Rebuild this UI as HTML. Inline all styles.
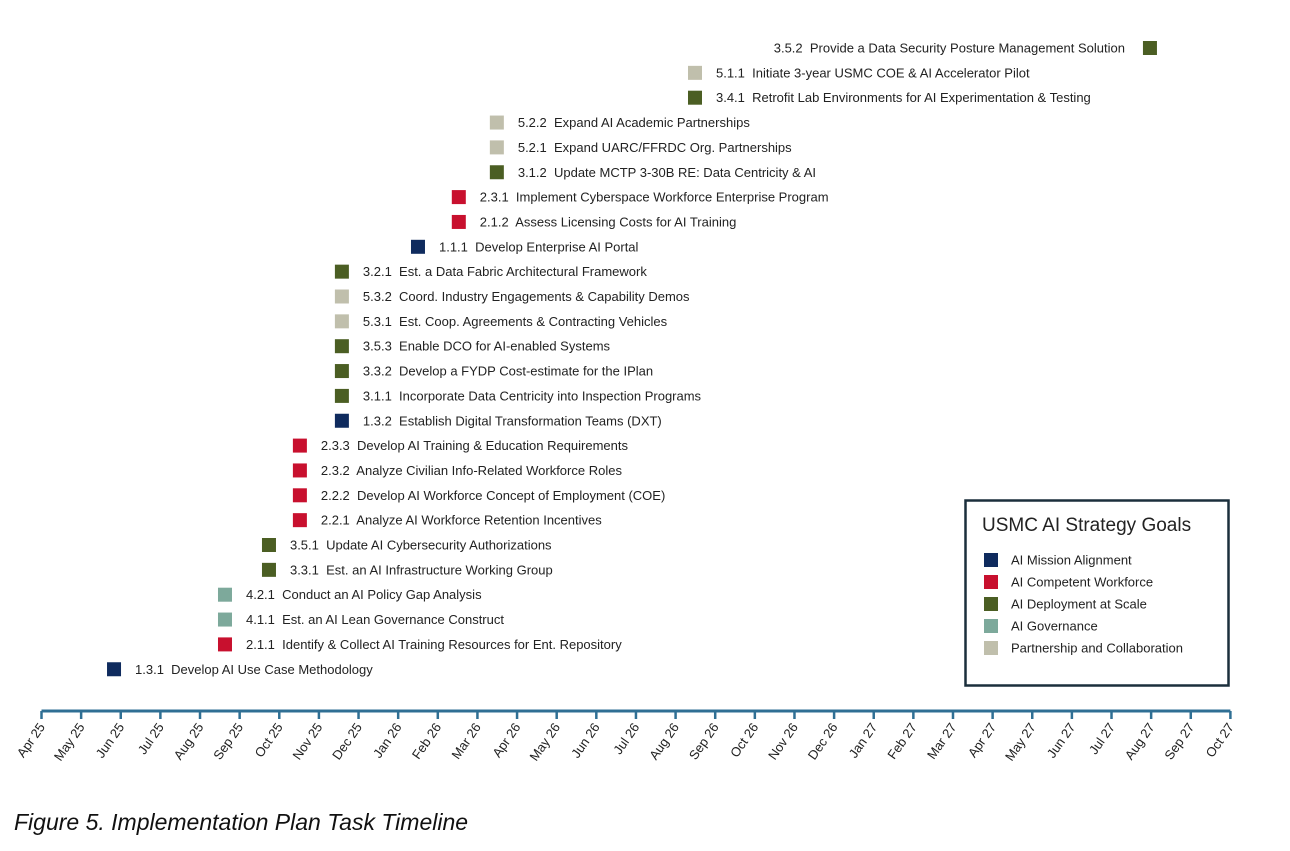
<!DOCTYPE html>
<html><head><meta charset="utf-8"><style>
body{margin:0;background:#fff;}
svg text{font-family:"Liberation Sans",sans-serif;}
</style></head><body>
<svg width="1290" height="846" viewBox="0 0 1290 846" xmlns="http://www.w3.org/2000/svg">
<g id="marks"></g>
<g id="axis"></g>
<g>
<rect x="965.5" y="500.5" width="263" height="185" fill="#fff" stroke="#1b2f3c" stroke-width="2.5"/>
<text x="982" y="531" font-size="19" fill="#222">USMC AI Strategy Goals</text>
<g id="legend-items"></g>
</g>
<text x="14" y="830" font-size="23" font-style="italic" fill="#111" style="font-family:'Liberation Sans',sans-serif">Figure 5. Implementation Plan Task Timeline</text>
</svg>
<script>
const months=["Apr 25","May 25","Jun 25","Jul 25","Aug 25","Sep 25","Oct 25","Nov 25","Dec 25","Jan 26","Feb 26","Mar 26","Apr 26","May 26","Jun 26","Jul 26","Aug 26","Sep 26","Oct 26","Nov 26","Dec 26","Jan 27","Feb 27","Mar 27","Apr 27","May 27","Jun 27","Jul 27","Aug 27","Sep 27","Oct 27"];
const taskLabels=["3.5.2  Provide a Data Security Posture Management Solution","5.1.1  Initiate 3-year USMC COE & AI Accelerator Pilot","3.4.1  Retrofit Lab Environments for AI Experimentation & Testing","5.2.2  Expand AI Academic Partnerships","5.2.1  Expand UARC/FFRDC Org. Partnerships","3.1.2  Update MCTP 3-30B RE: Data Centricity & AI","2.3.1  Implement Cyberspace Workforce Enterprise Program","2.1.2  Assess Licensing Costs for AI Training","1.1.1  Develop Enterprise AI Portal","3.2.1  Est. a Data Fabric Architectural Framework","5.3.2  Coord. Industry Engagements & Capability Demos","5.3.1  Est. Coop. Agreements & Contracting Vehicles","3.5.3  Enable DCO for AI-enabled Systems","3.3.2  Develop a FYDP Cost-estimate for the IPlan","3.1.1  Incorporate Data Centricity into Inspection Programs","1.3.2  Establish Digital Transformation Teams (DXT)","2.3.3  Develop AI Training & Education Requirements","2.3.2  Analyze Civilian Info-Related Workforce Roles","2.2.2  Develop AI Workforce Concept of Employment (COE)","2.2.1  Analyze AI Workforce Retention Incentives","3.5.1  Update AI Cybersecurity Authorizations","3.3.1  Est. an AI Infrastructure Working Group","4.2.1  Conduct an AI Policy Gap Analysis","4.1.1  Est. an AI Lean Governance Construct","2.1.1  Identify & Collect AI Training Resources for Ent. Repository","1.3.1  Develop AI Use Case Methodology"];
const taskMonths=[27.97,16.49,16.49,11.49,11.49,11.49,10.53,10.53,9.5,7.58,7.58,7.58,7.58,7.58,7.58,7.58,6.52,6.52,6.52,6.52,5.74,5.74,4.63,4.63,4.63,1.83];
const taskGoals=[2,4,2,4,4,2,1,1,0,2,4,4,2,2,2,0,1,1,1,1,2,2,3,3,1,0];
const goalNames=["AI Mission Alignment","AI Competent Workforce","AI Deployment at Scale","AI Governance","Partnership and Collaboration"];
const goalColors=["#0f2b5e","#c8102e","#4b5e23","#7da99b","#c0bfac"];
const NS="http://www.w3.org/2000/svg";
const x=m=>41.5+m*39.63;
const y=i=>48+i*24.85;
const marks=document.getElementById('marks');
taskLabels.forEach((t,i)=>{
  const cx=x(taskMonths[i]),cy=y(i);
  const r=document.createElementNS(NS,'rect');
  r.setAttribute('x',cx-7);r.setAttribute('y',cy-7);r.setAttribute('width',14);r.setAttribute('height',14);
  r.setAttribute('fill',goalColors[taskGoals[i]]);
  
  
  marks.appendChild(r);
  const tx=document.createElementNS(NS,'text');
  const left=cx>1000;
  tx.setAttribute('x',left?cx-25:cx+21);tx.setAttribute('y',cy+4.5);
  tx.setAttribute('font-size','13');tx.setAttribute('fill','#222');
  if(left)tx.setAttribute('text-anchor','end');
  tx.setAttribute('xml:space','preserve');tx.style.whiteSpace='pre';
  tx.textContent=t;
  
  
  marks.appendChild(tx);
});
const axis=document.getElementById('axis');
const ln=document.createElementNS(NS,'line');
ln.setAttribute('x1',x(0));ln.setAttribute('x2',x(months.length-1));ln.setAttribute('y1',711);ln.setAttribute('y2',711);
ln.setAttribute('stroke','#2f6f94');ln.setAttribute('stroke-width','3');


axis.appendChild(ln);
months.forEach((m,i)=>{
  const tk=document.createElementNS(NS,'line');
  tk.setAttribute('x1',x(i));tk.setAttribute('x2',x(i));tk.setAttribute('y1',711);tk.setAttribute('y2',719);
  tk.setAttribute('stroke','#2f6f94');tk.setAttribute('stroke-width','2.5');
  
  
  axis.appendChild(tk);
  const tl=document.createElementNS(NS,'text');
  tl.setAttribute('transform',`translate(${x(i)+4},${727}) rotate(-55)`);
  tl.setAttribute('text-anchor','end');tl.setAttribute('font-size','13');tl.setAttribute('fill','#222');
  tl.textContent=m;
  
  
  axis.appendChild(tl);
});
const li=document.getElementById('legend-items');
goalNames.forEach((g,i)=>{
  const cy=560+i*22;
  const r=document.createElementNS(NS,'rect');
  r.setAttribute('x',984);r.setAttribute('y',cy-7);r.setAttribute('width',14);r.setAttribute('height',14);
  r.setAttribute('fill',goalColors[i]);
  
  
  li.appendChild(r);
  const t=document.createElementNS(NS,'text');
  t.setAttribute('x',1011);t.setAttribute('y',cy+4.5);t.setAttribute('font-size','13');t.setAttribute('fill','#222');
  t.textContent=g;
  
  
  li.appendChild(t);
});
</script>
</body></html>
